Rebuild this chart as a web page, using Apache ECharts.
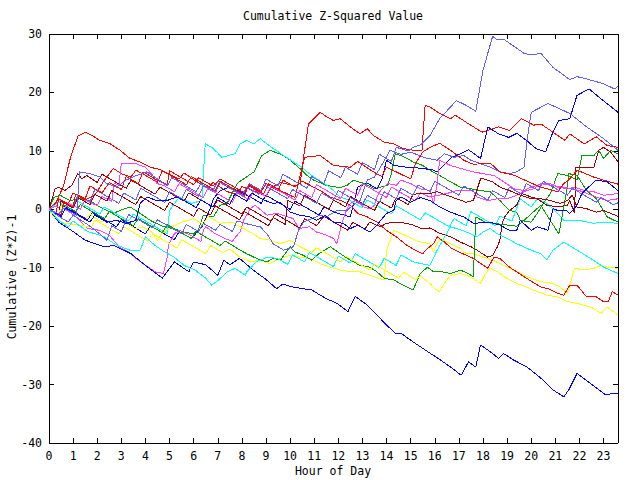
<!DOCTYPE html>
<html><head><meta charset="utf-8">
<script src="https://cdn.jsdelivr.net/npm/echarts@6/dist/echarts.min.js"></script>
<style>html,body{margin:0;padding:0;background:#fff;}#c{width:640px;height:480px;}#c svg path{shape-rendering:crispEdges;}</style>
</head><body><div id="c"></div>
<script>
// ---- data (hour of day, cumulative (z*z)-1) ----
const xTickLabels = ['0','1','2','3','4','5','6','7','8','9','10','11','12','13','14','15','16','17','18','19','20','21','22','23'];
const yTickLabels = ['-40','-30','-20','-10','0','10','20','30'];
const X_MAX = 23.6;

const r1 = [[0,0],[0.3,1.2],[0.6,4],[0.9,9],[1.2,12.5],[1.5,13.2],[1.8,12.6],[2.1,11.8],[2.5,11.3],[2.95,10.1],[3.36,8.7],[3.78,8.1],[4.2,7.2],[4.6,6.8],[5.0,6.0],[5.4,5.2],[5.6,6.2],[6.1,4.8],[6.6,3.6],[6.8,4.6],[7.4,3.0],[7.8,2.6],[8.0,3.9],[8.6,3.0],[9.0,2.2],[9.2,3.6],[9.6,4.6],[10.2,4.0],[10.42,4.4],[10.56,8.9],[10.76,14.6],[11.25,16.6],[11.53,15.8],[11.8,15.2],[12.08,15.5],[12.5,14.1],[12.9,12.9],[13.2,13.8],[13.46,12.6],[13.9,11.5],[14.3,11.2],[14.7,10.4],[15.1,10.1],[15.47,10.1],[15.6,17.8],[15.8,17.5],[16.2,16.4],[16.65,15.5],[16.85,16.1],[17.3,14.9],[17.96,13.2],[18.65,14.1],[19.1,13.5],[19.6,15.5],[20.1,14.4],[20.4,14.6],[20.9,13.2],[21.4,11.8],[21.6,12.9],[22.2,11.2],[22.7,12.4],[23.15,10.9],[23.6,10.6]];
const r2 = [[0,0],[0.3,-0.6],[0.4,1.8],[0.8,1.0],[1.0,2.8],[1.5,1.6],[1.9,2.4],[2.25,4.7],[2.67,7],[3.0,6.1],[3.4,5.5],[3.6,6.7],[4.0,5.8],[4.5,4.6],[4.7,6.6],[5.2,5.4],[5.7,4.2],[5.9,5.6],[6.4,4.4],[6.9,3.2],[7.1,4.8],[7.6,3.6],[8.1,2.4],[8.3,4.2],[8.8,3.0],[9.0,4.4],[9.5,3.2],[9.7,5.0],[10.2,3.8],[10.5,4.8],[11.25,3.2],[11.67,2.1],[12.1,1.5],[12.5,0.7],[12.8,-0.7],[13.2,-1.3],[13.6,-2.2],[14.0,-3.6],[14.4,-4.7],[14.85,-6.2],[15.2,-7],[15.5,-7.6],[15.7,-6.7],[15.95,-5.9],[16.1,-4.7],[16.4,-5.6],[16.7,-6.7],[17,-7.3],[17.6,-8.4],[18.2,-10.1],[18.45,-8.2],[18.7,-8.4],[19.1,-9.9],[19.8,-11.8],[20.4,-13.3],[20.7,-13.6],[21.1,-14.4],[21.35,-14.7],[21.6,-13],[21.9,-13],[22.3,-15],[22.7,-15],[23,-15.8],[23.2,-15.8],[23.36,-14.1],[23.6,-14.7]];
const r3 = [[0,0],[0.5,-1.0],[0.6,1.2],[1.0,0.4],[1.1,2.6],[1.5,1.8],[1.7,4.0],[2.2,2.8],[2.5,4.6],[3.0,3.4],[3.2,5.6],[3.7,4.4],[3.9,6.4],[4.4,5.2],[4.9,4.2],[5.0,6.6],[5.5,5.4],[6.0,4.2],[6.2,5.4],[6.8,4.0],[7.1,5.2],[7.6,4.0],[8.1,2.8],[8.3,4.0],[8.9,2.6],[9.1,4.4],[9.6,3.2],[10.2,2.0],[10.4,5.5],[10.6,8.9],[11.25,9.2],[11.8,7.5],[12.5,7.2],[12.8,8.2],[13.3,6.8],[13.8,5.6],[14.0,7.2],[14.6,6.0],[15.0,5.2],[15.2,7.8],[15.5,9.8],[15.8,10.6],[16.2,11.3],[16.65,10.1],[17.2,8.4],[17.6,7.7],[18.3,7.9],[18.7,6.4],[19.3,5.8],[20,4.5],[20.4,3.8],[21.1,3.0],[21.35,4.4],[21.6,5.2],[21.9,6.7],[22.6,5.5],[23,5.0],[23.6,4.3]];
const g1 = [[0,0],[0.5,-1.2],[0.6,0.8],[1.1,-0.4],[1.3,0.8],[1.8,-0.4],[2.3,-1.6],[2.5,-0.4],[3.0,-1.6],[3.5,-2.8],[3.7,-1.6],[4.2,-2.8],[4.7,-4.0],[4.9,-2.6],[5.4,-3.8],[5.9,-5.0],[6.1,-3.8],[6.6,-5.0],[7.1,-6.2],[7.3,-5.4],[7.93,-7],[8.2,-7.6],[8.5,-8.2],[8.76,-8.7],[9.04,-9],[9.3,-8.4],[9.6,-8.7],[10,-6.4],[10.2,-7.3],[10.56,-7.9],[10.9,-8.7],[11.2,-7.6],[11.67,-6.4],[12.08,-7.6],[12.5,-8.7],[12.9,-9.6],[13.3,-9.9],[13.6,-10.7],[13.9,-11.8],[14.3,-12.1],[14.7,-13],[15.1,-13.8],[15.4,-11],[15.7,-9.9],[15.95,-10.7],[16.2,-10.6],[16.65,-11],[17.06,-10.4],[17.4,-11],[17.6,-11.6],[17.7,-1.3],[18.1,-2.2],[18.8,-2.6],[19.4,-2.9],[19.7,-1.9],[20.4,0.7],[20.8,-2],[21.15,-4.2],[21.5,3.8],[21.56,6.1],[21.9,5.8],[22.3,3.2],[22.7,1.8],[23.15,-1.3],[23.6,-2.2]];
const g2 = [[0,0],[0.2,2],[0.46,2.4],[0.87,1.5],[1.29,1.8],[1.7,1.5],[2.1,0.4],[2.67,-0.7],[2.95,-0.2],[3.36,0.4],[3.78,-0.7],[4.2,-1.9],[4.75,-3],[5.15,-3.3],[5.6,-3.9],[6.0,-4.2],[6.2,-3.5],[6.4,-1],[6.82,-1.3],[7.1,0.7],[7.38,1],[7.52,2.1],[7.8,4.4],[8.07,5.2],[8.5,6.4],[8.83,9.2],[9.17,10.1],[9.73,9.2],[10,8.4],[10.4,7],[10.7,5.8],[10.97,5],[11.5,4.1],[12.08,3.7],[12.36,4.1],[12.63,5],[13,4.5],[13.5,3.5],[14.05,4.1],[14.2,6.1],[14.36,9.5],[14.6,9.2],[14.85,8.7],[15.1,8.1],[15.5,7.5],[15.8,6.7],[16.2,5.8],[16.65,4.7],[17.06,3.8],[17.5,3.5],[17.9,3.2],[18.3,3],[18.7,1.5],[19.1,-0.2],[19.4,-0.5],[19.55,-1.9],[20,-2.2],[20.25,-0.7],[20.5,1],[20.8,2.7],[21.1,6.1],[21.5,5.8],[21.9,5],[22.1,9.2],[22.6,9.2],[22.8,10.1],[23,8.7],[23.3,10.1],[23.6,9.5]];
const b1 = [[0,0],[0.4,-2.2],[1,-3.8],[1.5,-5.3],[2.3,-6.4],[2.7,-6.2],[3.4,-7.6],[4,-9.6],[4.7,-11.8],[5.2,-9],[5.8,-10.7],[6,-9],[6.5,-9.5],[7,-11.3],[7.25,-8.7],[7.5,-9.5],[7.9,-8.4],[8.5,-10.5],[9.0,-12],[9.44,-13.6],[9.7,-12.8],[10.1,-13.3],[10.55,-13.6],[10.9,-13.8],[11.25,-14.7],[11.5,-15.3],[11.95,-16.1],[12.4,-17.5],[12.7,-14.9],[13.2,-16.4],[13.6,-18.1],[14,-19.8],[14.36,-21.2],[14.6,-21.2],[15,-22.4],[15.5,-23.8],[16.2,-25.7],[16.65,-27],[17.1,-28.4],[17.4,-26.1],[17.7,-27],[17.9,-23.2],[18.3,-24.4],[18.65,-25.5],[18.86,-24.7],[19.27,-25.8],[19.83,-27],[20.4,-28.9],[20.9,-30.9],[21.35,-32.1],[21.56,-30.9],[21.9,-28.1],[22.46,-29.8],[23.1,-31.8],[23.36,-31.5],[23.6,-31.5]];
const b2 = [[0,0],[0.5,-1.2],[0.6,0.6],[1.1,-0.6],[1.6,-1.8],[1.8,-0.6],[2.3,-1.8],[2.8,-3.0],[3.0,-1.8],[3.5,-3.0],[4.0,-4.2],[4.2,-2.8],[4.7,-4.0],[5.2,-5.2],[5.4,-3.8],[5.9,-5.0],[6.34,-3],[6.68,0.1],[6.82,1.8],[7.1,3.2],[7.5,3.8],[7.93,3],[8.35,2.1],[8.8,1.0],[9.0,2.4],[9.5,1.2],[10.0,0],[10.2,1.4],[10.7,0.2],[11.2,-1.0],[11.4,0.4],[11.9,-0.6],[12.5,-1.3],[12.8,3.8],[13.2,4.5],[13.6,3.5],[13.8,5],[14.0,8.4],[14.3,7.5],[14.85,7.2],[15.5,7.0],[15.95,6.7],[16.1,6.4],[16.7,8.9],[17.06,9.5],[17.4,10.2],[17.9,8.7],[18.2,14.1],[18.65,12.9],[19.07,12.3],[19.4,13.0],[19.8,11.8],[20.2,10.4],[20.6,9.8],[20.9,13.2],[21.15,15.2],[21.6,15.5],[21.9,19.5],[22.4,20.6],[22.9,18.9],[23.6,16.6]];
const b3 = [[0,0],[0.5,-1.2],[0.7,0.2],[1.2,-1.0],[1.7,-2.2],[1.9,-1.0],[2.4,-2.2],[2.8,-1.9],[3.2,-2.4],[3.6,-1.9],[3.78,1],[4.06,2.1],[4.47,1.5],[4.9,1.5],[5.3,2.1],[5.6,1.5],[6.1,0.3],[6.3,1.6],[6.8,0.4],[7.0,2.0],[7.5,0.8],[7.7,2.6],[8.2,1.4],[8.4,2.8],[8.9,1.6],[9.3,1],[9.6,1.2],[10,-0.5],[10.4,-1],[10.83,-1.3],[11.1,-1.9],[11.45,-1],[11.8,-2.2],[12.2,-2.4],[12.5,-3.3],[12.8,-2.7],[13.3,-3.9],[13.6,-2.7],[14,-0.7],[14.3,-0.2],[14.4,1.5],[14.6,2.1],[15,1.2],[15.4,2.0],[15.8,1.5],[16.2,0.4],[16.65,-0.5],[17.2,-1.3],[17.6,-2.4],[18.3,-2.2],[18.7,-2.7],[19.1,-3.6],[19.4,-3.6],[19.55,-1.9],[20,-3.6],[20.25,-3],[20.5,-3.3],[20.7,-3.6],[20.9,0.1],[21.1,-0.2],[21.45,-0.2],[21.6,-0.7],[21.9,0.7],[22.1,2.7],[22.3,3.5],[22.7,5],[23.15,4.7],[23.6,3.2]];
const m1 = [[0,0],[0.4,-1.0],[0.6,0.2],[1.1,-1.2],[1.6,-3.3],[2.1,-3.6],[2.5,-4.4],[2.9,-6.4],[3.3,-7.3],[3.6,-8.4],[4.0,-9.6],[4.4,-10.7],[4.75,-11],[4.9,-8.2],[4.95,-6.2],[5.2,-4.2],[5.4,-3.6],[5.9,-4.5],[6.3,-5.5],[6.4,-3.6],[6.5,-3],[6.9,-4.2],[7.3,-5],[7.6,-5.5],[7.85,-4.2],[7.93,-3.9],[8.07,-1.9],[8.35,0.1],[8.55,0.7],[9.04,-1],[9.45,-0.7],[10.14,-1.6],[10.35,-3.3],[10.8,-3],[11.1,-3.9],[11.5,-4.4],[11.8,-5],[11.94,-5.9],[12.15,-2.4],[12.36,0.1],[12.5,1],[12.7,1.5],[13.05,0.4],[13.3,0.1],[13.5,0.7],[13.6,2.1],[13.75,3.2],[14.05,4.4],[14.4,4.1],[14.6,5],[15,4.4],[15.4,3.5],[15.8,3.2],[15.95,1.0],[16.1,4.4],[16.2,8.4],[16.65,7.5],[17.06,7],[17.6,6.4],[18,6.1],[18.45,5.8],[18.86,4.7],[19.3,3.5],[19.7,3.2],[20,3.8],[20.25,4.1],[20.5,4.4],[20.8,4.4],[21.1,3.8],[21.5,3.5],[21.8,3.8],[22.2,3.2],[22.6,3],[23,2.4],[23.6,2.7]];
const m2 = [[0,0],[0.3,0.6],[0.6,-0.4],[0.8,1.0],[1.3,0.0],[1.5,1.6],[2.0,0.6],[2.2,2.2],[2.6,1.4],[2.7,4.4],[2.9,4.2],[3.0,7.8],[3.6,7.8],[4,7.2],[4.3,5.8],[4.47,4.4],[4.75,4.1],[5.2,3.0],[5.4,4.4],[5.9,3.2],[6.4,2.0],[6.6,3.6],[7.1,2.4],[7.6,1.2],[7.8,2.8],[8.3,1.6],[8.5,3.4],[9.0,2.2],[9.2,4.0],[9.7,2.8],[10.2,1.6],[10.4,3.2],[10.9,2.0],[11.1,4.2],[11.6,3.0],[12.1,1.8],[12.3,3.6],[12.8,2.4],[13.0,4.4],[13.5,3.2],[14.0,2.0],[14.2,3.8],[14.7,2.6],[15.2,1.4],[15.4,2.8],[15.8,2.1],[16.5,2.7],[16.9,3.2],[17.6,3.2],[17.75,2.1],[18.2,1.5],[18.6,1.8],[19,1.8],[19.4,2.4],[19.8,3.2],[20.1,3.5],[20.4,4.4],[20.8,4.1],[21.35,3.8],[22,3.2],[22.7,2.1],[23.15,1.5],[23.6,1.8]];
const c1 = [[0,0],[0.4,1.2],[0.9,0.0],[1.1,1.6],[1.6,0.4],[2.1,-0.8],[2.3,0.4],[2.8,-0.8],[3.3,-2.0],[3.5,-0.8],[4.0,-2.0],[4.5,-3.2],[4.9,-4.2],[5.0,-0.2],[5.4,2.1],[5.9,1.0],[6.34,1.5],[6.48,11.2],[6.75,10.6],[6.96,9.8],[7.17,8.9],[7.44,9.2],[7.72,9.5],[7.93,11.2],[8.2,11.8],[8.5,11.2],[8.76,12.1],[9.04,11.2],[9.3,10.4],[9.73,9.2],[10.14,8.1],[10.56,7],[10.7,6.4],[11.1,5.2],[11.53,4.1],[11.8,3.2],[12.08,2.1],[12.5,1.5],[13.0,0.2],[13.2,1.6],[13.7,0.4],[14.2,-0.8],[14.4,0.6],[14.9,-0.6],[15.4,-1.8],[15.6,-0.6],[16.1,-1.8],[16.6,-3.0],[16.8,-1.6],[17.3,-2.8],[17.5,-0.4],[18.0,-1.6],[18.5,-2.8],[18.7,-1.2],[19.2,-2.0],[19.55,1.8],[20,0.4],[20.25,1.8],[20.65,1],[21.1,-0.7],[21.35,-1.9],[22,-1.9],[22.6,-2.4],[23,-2.2],[23.6,-2.4]];
const c2 = [[0,0],[0.4,-1.9],[0.8,-3],[1.0,-2.0],[1.6,-3.8],[2.3,-4.7],[2.7,-5.9],[3.15,-6.7],[3.36,-7],[3.78,-7],[4.0,-4.7],[4.4,-6.2],[4.8,-7.3],[5.2,-8.2],[5.6,-9.6],[6.06,-10.4],[6.5,-11.8],[6.75,-13],[7.03,-12.1],[7.4,-10.7],[7.72,-10.1],[8.14,-11.3],[8.2,-10.7],[8.6,-9],[9.04,-8.2],[9.45,-8.4],[9.9,-9.4],[10.1,-7.8],[10.6,-9.0],[10.8,-7.4],[11.3,-8.6],[11.8,-9.8],[12.0,-8.0],[12.5,-9.2],[12.7,-7.6],[13.2,-8.8],[13.7,-10.0],[13.9,-8.4],[14.4,-9.6],[14.6,-7.8],[15.1,-9.0],[15.8,-9.6],[16.1,-7],[16.65,-3],[17.06,-3.5],[17.5,-4.2],[17.75,-4.7],[18.0,-3.9],[18.3,-3.3],[18.6,-4.2],[19,-5],[19.4,-5.9],[20,-7],[20.4,-7.6],[20.65,-8.7],[20.9,-7],[21.35,-5.6],[21.9,-7],[22.46,-8.4],[23,-9.9],[23.6,-11]];
const dr1 = [[0,0],[0.25,3.5],[0.4,3.8],[0.66,3.2],[0.94,4.1],[1.2,6.1],[1.36,5.2],[1.56,5.8],[2.0,4.6],[2.2,6.0],[2.7,4.8],[3.2,3.6],[3.4,5.0],[3.9,3.8],[4.4,2.6],[4.6,3.8],[5.1,2.6],[5.6,1.4],[5.8,2.8],[6.3,1.6],[6.8,0.4],[7.0,1.6],[7.5,0.4],[8.0,-0.8],[8.2,0.4],[8.7,-0.8],[9.2,-2.0],[9.4,-0.8],[9.9,-2.0],[10.4,-3.2],[10.6,-1.6],[11.1,-2.8],[11.4,-1.2],[11.9,-2.4],[12.4,-3.6],[12.6,-2.2],[13.1,-3.4],[13.3,-2.2],[13.75,-3],[14,-2.4],[14.4,-2.2],[14.85,-2.4],[15.1,-2.7],[15.45,-3.3],[15.8,-3.2],[16.2,-4.1],[16.65,-4.7],[17.06,-5.6],[17.5,-6.4],[17.75,-7],[18.2,-8.2],[18.4,-7.9],[18.6,-6.4],[18.7,-5.3],[18.8,-2.4],[18.9,-1.3],[19.1,-0.2],[19.4,0.7],[19.6,2.7],[20,2.1],[20.25,1.8],[20.65,0.7],[21.15,0.4],[21.5,0.7],[21.6,1.5],[21.8,-0.7],[21.85,7.2],[22.3,7.2],[22.6,7.2],[22.8,10.1],[23,10.6],[23.3,9.8],[23.6,8.1]];
const dr2 = [[0,0],[0.4,-1.0],[0.5,1.4],[1.0,0.2],[1.2,2.0],[1.7,0.8],[1.9,2.6],[2.4,1.4],[2.6,3.2],[3.1,2.0],[3.6,0.8],[3.8,2.2],[4.3,1.0],[4.8,-0.2],[5.0,1.2],[5.5,0.0],[6.0,-1.2],[6.2,0.2],[6.7,-1.0],[6.9,0.6],[7.4,-0.6],[7.9,-1.8],[8.1,-0.4],[8.6,-1.6],[9.1,-2.8],[9.3,-1.4],[9.8,-2.6],[9.9,1.5],[10.4,0.6],[10.6,2.4],[11.1,1.2],[11.6,0.0],[11.8,1.6],[12.3,0.4],[12.5,2.2],[13.0,1.0],[13.5,-0.2],[13.7,1.4],[14.2,0.2],[14.4,2.0],[14.9,0.8],[15.1,2.6],[15.8,2.7],[16.1,3],[16.5,2.4],[16.9,1.8],[17.3,1.2],[17.6,1.5],[17.9,5.2],[18.03,5.2],[18.4,4.7],[18.7,3.8],[19.1,3.2],[19.55,2.4],[20,1.8],[20.4,1.8],[20.8,1.5],[21.2,1],[21.5,1.5],[21.7,2.4],[21.9,0.4],[22.3,0.1],[22.7,-0.5],[23,-0.2],[23.3,-0.7],[23.6,-1.2]];
const y1 = [[0,0],[0.25,-1.6],[0.66,-2.4],[1.2,-2.7],[1.77,-3],[1.9,-1.8],[2.4,-3.0],[2.9,-4.2],[3.1,-3.0],[3.6,-4.2],[4.1,-5.4],[4.3,-4.2],[4.8,-5.4],[5.3,-6.6],[5.5,-5.2],[6.0,-6.4],[6.5,-7.6],[6.7,-6.2],[7.2,-7.4],[7.5,-6.8],[7.93,-8.2],[8.35,-9],[8.76,-8.7],[9.17,-9.3],[9.6,-8.4],[10,-7.9],[10.42,-8.2],[10.83,-8.4],[11.25,-9.3],[11.67,-9.9],[12.08,-10.4],[12.5,-10.7],[12.9,-10.7],[13.3,-11.3],[13.9,-12.1],[14.0,-7],[14.3,-3.6],[14.8,-4.5],[15.3,-5.5],[15.8,-5.9],[15.95,-7.3],[16.1,-5.9],[16.2,-5],[16.65,-5.9],[17.06,-6.7],[17.3,-7.6],[17.6,-7.6],[18,-8.2],[18.4,-8.7],[18.86,-9.6],[19.27,-10.4],[19.7,-11.3],[20,-11.8],[20.4,-12.4],[20.9,-12.7],[21.2,-13.3],[21.5,-14.4],[21.8,-10.1],[22.2,-10.4],[22.6,-10.1],[22.9,-9.6],[23.15,-9.9],[23.6,-10.1]];
const y2 = [[0,0],[0.4,-1.0],[0.5,0.6],[1.0,-0.6],[1.5,-1.8],[1.7,-0.8],[2.1,-2.0],[2.46,-2.2],[2.8,-1.9],[3.2,-2.4],[3.57,-3.3],[3.9,-3],[4.26,-3.9],[4.5,-5.3],[4.68,-4.2],[5.1,-3],[5.5,-2.2],[6.0,-1.6],[6.4,-2.6],[6.6,-1.2],[7.1,-2.4],[7.6,-2.2],[7.93,-3],[8.35,-3.9],[8.76,-5],[9.17,-5.3],[9.6,-5.9],[10,-5.3],[10.4,-6.4],[10.9,-7.4],[11.1,-6.6],[11.6,-7.8],[12.1,-9.0],[12.3,-8.0],[12.8,-9.2],[13.3,-10.4],[13.5,-9.4],[14.0,-10.6],[14.5,-11.8],[14.7,-10.8],[15.2,-12.0],[15.4,-11.4],[15.8,-12.7],[16,-13.6],[16.2,-14.1],[16.4,-12.7],[16.65,-11.3],[17.06,-11],[17.5,-11.6],[17.9,-12.7],[18.1,-11],[18.3,-10.1],[18.6,-10.7],[18.9,-11.6],[19.4,-12.7],[19.8,-13.3],[20.25,-14.1],[20.65,-14.7],[21.1,-15],[21.5,-15.8],[21.9,-16.1],[22.46,-16.7],[22.9,-17.8],[23.15,-16.7],[23.6,-18.1]];
const lb1 = [[0,0],[0.4,-1.0],[0.5,1.6],[1.0,0.4],[1.2,2.4],[1.7,1.2],[1.9,3.4],[2.4,2.2],[2.9,1.0],[3.1,2.8],[3.6,1.6],[3.8,3.6],[4.3,2.4],[4.8,1.2],[5.0,3.0],[5.5,1.8],[5.7,3.4],[6.2,2.2],[6.4,4.0],[6.9,2.8],[7.1,4.6],[7.6,3.4],[8.1,2.2],[8.3,4.4],[8.8,3.2],[9.0,5.2],[9.5,4.0],[9.7,6.0],[10.2,4.8],[10.7,3.6],[10.9,5.6],[11.4,4.4],[11.6,6.6],[12.1,5.4],[12.3,7.2],[12.8,6.0],[13.0,8.0],[13.5,6.8],[13.7,9.4],[14.2,8.2],[14.4,10.6],[14.9,10.0],[15.1,10.6],[15.4,11],[15.8,12.6],[16.2,15.5],[16.9,18.6],[17.3,17.8],[17.7,16.8],[18.0,23.8],[18.4,29.6],[18.6,29],[18.9,29],[19.7,26.7],[20.0,26.4],[20.4,26.7],[20.9,24.3],[21.6,22.2],[21.9,22.7],[22.3,22.3],[23.0,21.5],[23.45,20.6],[23.6,21]];
const lb2 = [[0,0],[0.4,-1.2],[0.8,-2.2],[1.0,-1.0],[1.6,-2.6],[2.1,-4.2],[2.4,-5.3],[2.6,-2.8],[3.0,-3.8],[3.3,-0.9],[3.8,-2.0],[4.3,-3.2],[4.5,-1.8],[5.0,-3.0],[5.5,-4.2],[5.7,-2.6],[6.2,-3.8],[6.4,-2.4],[6.9,-3.6],[7.1,-2.6],[7.6,-3.8],[7.8,-2.0],[8.3,-2.6],[8.76,-3],[9.04,-4.2],[9.3,-5.9],[9.73,-7],[10.14,-6.4],[10.35,-3.6],[10.56,-2.2],[10.9,-1.6],[11.25,-1],[11.5,-1.3],[11.94,-0.2],[12.36,-0.2],[12.6,0.7],[12.9,1.5],[13.2,5],[13.5,5.5],[13.75,7.2],[14.15,10.1],[14.6,9.4],[15.0,9.8],[15.6,8.8],[16.1,8.4],[16.4,9.5],[16.8,8.9],[17.2,9.2],[17.5,8.4],[17.9,7.8],[18.3,7.2],[18.7,6.4],[19.1,6.1],[19.4,6.4],[19.7,7.2],[19.83,11.8],[20,16.6],[20.7,18.1],[21.6,16.4],[22.3,14.1],[23,12.1],[23.6,10.1]];
const lb3 = [[0,0],[0.4,-0.8],[0.6,0.2],[1.15,-1],[1.26,6.4],[1.7,6.1],[2.12,5.5],[2.4,4.4],[2.8,3.8],[3.2,5],[3.64,5.8],[4.06,6.4],[4.5,5.2],[4.9,4.0],[5.1,5.4],[5.6,4.2],[6.1,3.0],[6.3,4.4],[6.8,3.2],[7.0,4.8],[7.5,3.6],[8.0,2.4],[8.2,3.8],[8.7,2.6],[8.9,4.2],[9.4,3.0],[9.9,1.8],[10.1,3.4],[10.6,2.2],[11.1,1.0],[11.3,2.8],[11.8,1.6],[12.0,3.2],[12.5,2.0],[13.0,0.8],[13.2,2.4],[13.7,1.2],[13.9,3.0],[14.4,1.8],[14.6,3.6],[15.1,2.4],[15.3,4.2],[15.8,3.0],[16.0,4.8],[16.5,3.6],[17.0,2.4],[17.2,4.0],[17.7,2.8],[18.2,1.6],[18.4,3.2],[18.9,2.0],[19.1,3.8],[19.6,2.6],[19.8,4.4],[20.3,3.2],[20.5,4.8],[21.0,3.6],[21.5,2.4],[21.7,3.6],[22.2,2.4],[22.7,1.2],[22.9,2.0],[23.4,0.8],[23.6,1.1]];

// ---- styling ----
const COLORS = {red:'#ff0000', green:'#00a000', blue:'#0000ff', magenta:'#ff40ff', cyan:'#00ffff', darkred:'#a00000', yellow:'#ffff00', lightblue:'#6060ff'};
const lines = [
  [r1,'red'],[g2,'green'],[b2,'blue'],[m1,'magenta'],[c1,'cyan'],[dr1,'darkred'],[y1,'yellow'],[lb1,'lightblue'],
  [r2,'red'],[g1,'green'],[b1,'blue'],[m2,'magenta'],[c2,'cyan'],[dr2,'darkred'],[y2,'yellow'],[lb2,'lightblue'],
  [r3,'red'],[b3,'blue'],[lb3,'lightblue']
];
const FONT = "'DejaVu Sans Mono', 'Liberation Mono', monospace";
const FS = 11.5;

const chart = echarts.init(document.getElementById('c'), null, {renderer:'svg'});
const lineAxis = {show:true, onZero:false, lineStyle:{color:'#000', width:1}};
const tickAxis = {show:true, inside:true, length:5, lineStyle:{color:'#000', width:1}};
chart.setOption({
  animation:false,
  backgroundColor:'#fff',
  grid:{left:49, top:34, right:22, bottom:37, containLabel:false, outerBoundsMode:'none', show:false},
  xAxis:[
    {type:'value', min:0, max:X_MAX, interval:1, position:'bottom', axisLine:lineAxis, axisTick:tickAxis, splitLine:{show:false},
     axisLabel:{show:true, color:'#000', fontFamily:FONT, fontSize:FS, margin:7, showMaxLabel:false, showMinLabel:true, hideOverlap:false,
       formatter:(v)=>{const i=Math.round(v); return (Math.abs(v-i)<1e-6 && xTickLabels[i]!==undefined)? xTickLabels[i] : '';}}},
    {type:'value', min:0, max:X_MAX, interval:1, position:'top', axisLine:lineAxis, axisTick:tickAxis, splitLine:{show:false}, axisLabel:{show:false}}
  ],
  yAxis:[
    {type:'value', min:-40, max:30, interval:10, position:'left', axisLine:lineAxis, axisTick:tickAxis, splitLine:{show:false},
     axisLabel:{show:true, color:'#000', fontFamily:FONT, fontSize:FS, margin:7, hideOverlap:false,
       formatter:(v)=>{const i=Math.round((v+40)/10); return yTickLabels[i]!==undefined ? yTickLabels[i] : '';}}},
    {type:'value', min:-40, max:30, interval:10, position:'right', axisLine:lineAxis, axisTick:tickAxis, splitLine:{show:false}, axisLabel:{show:false}}
  ],
  graphic:[
    {type:'text', x:333, y:16, style:{text:'Cumulative Z-Squared Value', font:FS+'px '+FONT, fill:'#000', textAlign:'center', textVerticalAlign:'middle'}},
    {type:'text', x:333, y:471, style:{text:'Hour of Day', font:FS+'px '+FONT, fill:'#000', textAlign:'center', textVerticalAlign:'middle'}},
    {type:'text', x:12, y:277, rotation:Math.PI/2, style:{text:'Cumulative (Z*Z)-1', font:FS+'px '+FONT, fill:'#000', textAlign:'center', textVerticalAlign:'middle'}}
  ],
  series: lines.map(([d,c],i)=>({
    type:'line', name:'s'+i, data:d, xAxisIndex:0, yAxisIndex:0, showSymbol:false, symbol:'none', smooth:false,
    lineStyle:{color:COLORS[c], width:1}, itemStyle:{color:COLORS[c]}, silent:true, clip:true, z:2
  }))
});
</script></body></html>
